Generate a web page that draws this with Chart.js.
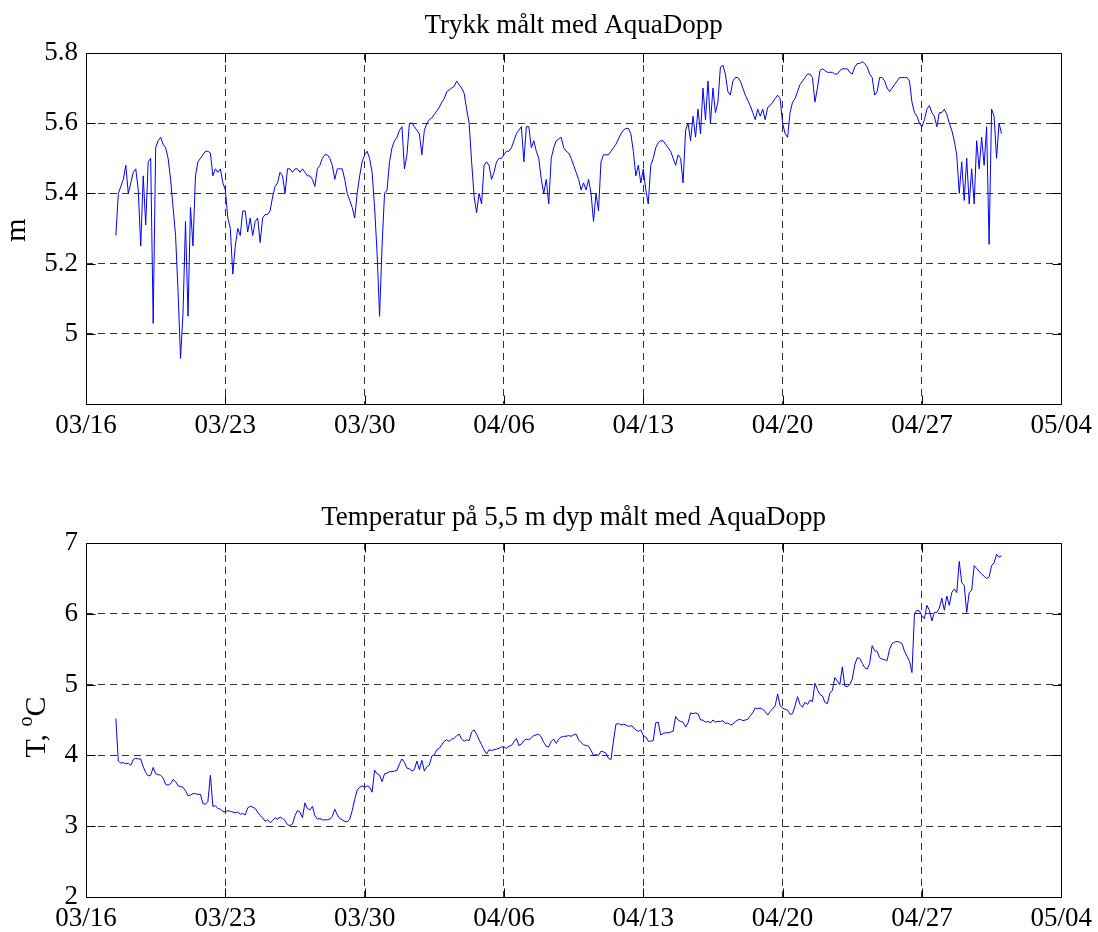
<!DOCTYPE html>
<html><head><meta charset="utf-8">
<script src="https://cdn.jsdelivr.net/npm/chart.js@4.4.1/dist/chart.umd.min.js"></script>
<style>
html,body{margin:0;padding:0;background:#fff;}
#wrap{position:relative;width:1098px;height:932px;background:#fff;}
canvas{position:absolute;left:0;}
</style></head><body>
<div id="wrap">
<canvas id="c1" width="1098" height="466" style="top:0"></canvas>
<canvas id="c2" width="1098" height="466" style="top:466px"></canvas>
</div>
<script>
// ---- data (days since 03/16 00:00, sampled every 3 h, one row per day) ----
const startDay = 1.5;
const stepDays = 0.125;
const dateTickDays = [0, 7, 14, 21, 28, 35, 42, 49];
const dateTickLabels = ['03/16', '03/23', '03/30', '04/06', '04/13', '04/20', '04/27', '05/04'];
const pressureTicks = [4.8, 5.0, 5.2, 5.4, 5.6, 5.8];
const pressureTickLabels = ['', '5', '5.2', '5.4', '5.6', '5.8'];
const tempTicks = [2, 3, 4, 5, 6, 7];
const tempTickLabels = ['2', '3', '4', '5', '6', '7'];
const pressureTitle = 'Trykk målt med AquaDopp';
const tempTitle = 'Temperatur på 5,5 m dyp målt med AquaDopp';

const pressure = [
  5.28, 5.40, 5.42, 5.44,
  5.48, 5.40, 5.43, 5.46, 5.47, 5.41, 5.25, 5.45,
  5.31, 5.49, 5.50, 5.03, 5.53, 5.55, 5.56, 5.54,
  5.53, 5.50, 5.44, 5.36, 5.28, 5.12, 4.93, 5.06,
  5.32, 5.05, 5.36, 5.25, 5.45, 5.49, 5.50, 5.51,
  5.52, 5.52, 5.515, 5.45, 5.47, 5.46, 5.47, 5.43,
  5.41, 5.33, 5.30, 5.17, 5.25, 5.30, 5.28, 5.35,
  5.35, 5.29, 5.33, 5.28, 5.32, 5.33, 5.26, 5.33,
  5.34, 5.34, 5.35, 5.39, 5.42, 5.43, 5.46, 5.45,
  5.40, 5.47, 5.47, 5.46, 5.47, 5.47, 5.46, 5.47,
  5.46, 5.45, 5.45, 5.44, 5.42, 5.47, 5.48, 5.50,
  5.51, 5.51, 5.50, 5.48, 5.44, 5.47, 5.47, 5.47,
  5.44, 5.40, 5.38, 5.36, 5.33, 5.40, 5.45, 5.49,
  5.51, 5.52, 5.50, 5.46, 5.36, 5.23, 5.05, 5.25,
  5.40, 5.41, 5.49, 5.53, 5.55, 5.56, 5.58, 5.59,
  5.47, 5.51, 5.60, 5.60, 5.59, 5.58, 5.57, 5.51,
  5.58, 5.60, 5.61, 5.615, 5.625, 5.635, 5.645, 5.66,
  5.67, 5.69, 5.695, 5.70, 5.705, 5.72, 5.71, 5.70,
  5.685, 5.64, 5.60, 5.49, 5.39, 5.345, 5.40, 5.37,
  5.48, 5.49, 5.48, 5.44, 5.46, 5.49, 5.50, 5.50,
  5.51, 5.52, 5.52, 5.53, 5.55, 5.57, 5.58, 5.59,
  5.49, 5.59, 5.59, 5.53, 5.55, 5.52, 5.50, 5.44,
  5.40, 5.44, 5.37, 5.50, 5.53, 5.55, 5.555, 5.56,
  5.53, 5.52, 5.515, 5.50, 5.48, 5.46, 5.44, 5.41,
  5.43, 5.41, 5.44, 5.40, 5.32, 5.40, 5.35, 5.49,
  5.51, 5.51, 5.51, 5.52, 5.53, 5.54, 5.555, 5.57,
  5.58, 5.585, 5.585, 5.57, 5.52, 5.45, 5.48, 5.43,
  5.47, 5.41, 5.37, 5.48, 5.50, 5.53, 5.545, 5.55,
  5.55, 5.54, 5.53, 5.52, 5.50, 5.48, 5.51, 5.50,
  5.43, 5.58, 5.60, 5.55, 5.62, 5.56, 5.64, 5.57,
  5.70, 5.61, 5.72, 5.60, 5.70, 5.63, 5.66, 5.76,
  5.765, 5.74, 5.69, 5.68, 5.72, 5.73, 5.73, 5.72,
  5.70, 5.68, 5.665, 5.65, 5.63, 5.61, 5.64, 5.62,
  5.64, 5.61, 5.645, 5.65, 5.66, 5.67, 5.68, 5.67,
  5.60, 5.57, 5.56, 5.63, 5.66, 5.67, 5.69, 5.71,
  5.72, 5.73, 5.74, 5.74, 5.73, 5.66, 5.70, 5.75,
  5.755, 5.75, 5.745, 5.745, 5.745, 5.74, 5.74, 5.75,
  5.755, 5.755, 5.755, 5.745, 5.74, 5.76, 5.77, 5.77,
  5.775, 5.77, 5.76, 5.74, 5.73, 5.68, 5.69, 5.73,
  5.73, 5.72, 5.70, 5.69, 5.70, 5.71, 5.72, 5.73,
  5.73, 5.73, 5.73, 5.72, 5.66, 5.63, 5.62, 5.60,
  5.59, 5.61, 5.64, 5.65, 5.63, 5.62, 5.59, 5.63,
  5.63, 5.64, 5.625, 5.60, 5.58, 5.55, 5.51, 5.40,
  5.49, 5.38, 5.50, 5.37, 5.47, 5.37, 5.55, 5.47,
  5.56, 5.48, 5.59, 5.255, 5.64, 5.62, 5.50, 5.60,
  5.57
];

const temperature = [
  4.52, 3.92, 3.89, 3.90,
  3.88, 3.89, 3.86, 3.94, 3.96, 3.95, 3.95, 3.84,
  3.76, 3.71, 3.72, 3.83, 3.74, 3.73, 3.72, 3.68,
  3.59, 3.58, 3.60, 3.66, 3.63, 3.57, 3.56, 3.55,
  3.50, 3.43, 3.44, 3.46, 3.46, 3.45, 3.45, 3.32,
  3.31, 3.35, 3.72, 3.28, 3.29, 3.25, 3.24, 3.21,
  3.20, 3.22, 3.21, 3.20, 3.19, 3.20, 3.17, 3.18,
  3.16, 3.26, 3.28, 3.27, 3.25, 3.20, 3.15, 3.12,
  3.07, 3.09, 3.05, 3.08, 3.12, 3.10, 3.13, 3.11,
  3.08, 3.02, 3.01, 3.03, 3.15, 3.22, 3.20, 3.12,
  3.33, 3.25, 3.23, 3.28, 3.15, 3.10, 3.11, 3.09,
  3.09, 3.09, 3.10, 3.14, 3.24, 3.16, 3.11, 3.09,
  3.07, 3.06, 3.10, 3.22, 3.38, 3.51, 3.55, 3.57,
  3.55, 3.57, 3.55, 3.48, 3.79, 3.74, 3.72, 3.63,
  3.74, 3.75, 3.77, 3.77, 3.78, 3.79, 3.88, 3.95,
  3.90, 3.82, 3.81, 3.78, 3.80, 3.92, 3.80, 3.93,
  3.78, 3.84, 3.86, 3.99, 4.01, 4.08, 4.10, 4.15,
  4.20, 4.22, 4.20, 4.23, 4.24, 4.28, 4.30, 4.23,
  4.20, 4.22, 4.21, 4.33, 4.36, 4.30, 4.22, 4.15,
  4.08, 4.02, 4.08, 4.07, 4.08, 4.09, 4.10, 4.12,
  4.12, 4.10, 4.13, 4.14, 4.19, 4.24, 4.14, 4.16,
  4.21, 4.23, 4.22, 4.25, 4.28, 4.29, 4.30, 4.26,
  4.18, 4.13, 4.12, 4.20, 4.23, 4.17, 4.23, 4.26,
  4.27, 4.27, 4.28, 4.27, 4.29, 4.30, 4.22, 4.18,
  4.15, 4.14, 4.13, 4.07, 4.00, 4.01, 4.00, 4.06,
  4.05, 4.03, 3.96, 3.94, 4.20, 4.44, 4.45, 4.43,
  4.44, 4.43, 4.41, 4.42, 4.40, 4.36, 4.34, 4.36,
  4.28, 4.26, 4.20, 4.20, 4.21, 4.46, 4.47, 4.29,
  4.31, 4.32, 4.32, 4.33, 4.34, 4.55, 4.50, 4.48,
  4.47, 4.40, 4.46, 4.60, 4.59, 4.60, 4.59, 4.50,
  4.50, 4.47, 4.48, 4.46, 4.50, 4.47, 4.48, 4.48,
  4.49, 4.45, 4.46, 4.43, 4.44, 4.48, 4.50, 4.51,
  4.49, 4.50, 4.51, 4.56, 4.60, 4.67, 4.66, 4.67,
  4.65, 4.62, 4.57, 4.62, 4.66, 4.70, 4.87, 4.70,
  4.67, 4.65, 4.64, 4.58, 4.59, 4.70, 4.83, 4.72,
  4.68, 4.75, 4.72, 4.78, 4.76, 5.02, 4.93, 4.86,
  4.84, 4.75, 4.73, 4.88, 4.92, 5.10, 5.05, 5.00,
  5.25, 4.98, 4.97, 5.00, 5.08, 5.28, 5.38, 5.37,
  5.30, 5.24, 5.22, 5.30, 5.55, 5.48, 5.47, 5.38,
  5.36, 5.35, 5.34, 5.50, 5.58, 5.60, 5.61, 5.60,
  5.58, 5.47, 5.40, 5.33, 5.17, 6.00, 6.05, 6.04,
  5.97, 5.93, 6.12, 6.05, 5.90, 6.02, 6.02, 6.08,
  6.22, 6.05, 6.25, 6.12, 6.30, 6.35, 6.30, 6.74,
  6.44, 6.40, 6.02, 6.30, 6.33, 6.68, 6.64, 6.60,
  6.56, 6.53, 6.50, 6.52, 6.68, 6.72, 6.84, 6.80,
  6.82
];

// ---- drawing ----
const FONT = '"Liberation Serif", "Times New Roman", serif';
const TICK_FONT = {family: FONT, size: 27, weight: 'normal'};

const framePlugin = {
  id: 'frame',
  afterDraw(chart, args, opts) {
    const ctx = chart.ctx;
    const {left, right, top, bottom} = chart.chartArea;
    const xs = chart.scales.x, ys = chart.scales.y;
    const L = Math.round(left) + 0.5, R = Math.round(right) + 0.5;
    const T = Math.round(top) + 0.5, B = Math.round(bottom) + 0.5;
    ctx.save();
    ctx.strokeStyle = '#000';
    ctx.lineWidth = 1;
    ctx.setLineDash([]);
    ctx.beginPath();
    ctx.rect(L, T, R - L, B - T);
    const tl = 9;
    xs.ticks.forEach(t => {
      const px = Math.round(xs.getPixelForValue(t.value)) + 0.5;
      if (px <= L + 1 || px >= R - 1) return;
      ctx.moveTo(px, B); ctx.lineTo(px, B - tl);
      ctx.moveTo(px, T); ctx.lineTo(px, T + tl);
    });
    ys.ticks.forEach(t => {
      const py = Math.round(ys.getPixelForValue(t.value)) + 0.5;
      if (py <= T + 1 || py >= B - 1) return;
      ctx.moveTo(L, py); ctx.lineTo(L + tl, py);
      ctx.moveTo(R, py); ctx.lineTo(R - tl, py);
    });
    ctx.stroke();
    // title, centred over the plot area
    ctx.fillStyle = '#000';
    ctx.textAlign = 'center';
    ctx.textBaseline = 'alphabetic';
    ctx.font = opts.titleSize + 'px ' + FONT;
    ctx.fillText(opts.title, (left + right) / 2, opts.titleY);
    // y axis label
    if (opts.label) {
      const lab = opts.label;
      ctx.translate(lab.x, lab.y);
      ctx.rotate(-Math.PI / 2);
      ctx.textAlign = 'left';
      const big = lab.size + 'px ' + FONT, small = Math.round(lab.size * 0.65) + 'px ' + FONT;
      let total = 0;
      lab.parts.forEach(p => { ctx.font = p.sup ? small : big; total += ctx.measureText(p.text).width; });
      let x = -total / 2;
      lab.parts.forEach(p => {
        ctx.font = p.sup ? small : big;
        ctx.fillText(p.text, x, p.sup ? -lab.size * 0.42 : 0);
        x += ctx.measureText(p.text).width;
      });
    }
    ctx.restore();
  }
};

function makeChart(id, values, yMin, yMax, yTicks, yTickLabels, title, titleY, topSpace, xAxisHeight, label) {
  const pts = values.map((v, i) => ({x: startDay + i * stepDays, y: v}));
  return new Chart(document.getElementById(id), {
    type: 'line',
    data: {datasets: [{data: pts, borderColor: '#0000ff', borderWidth: 1, pointRadius: 0, tension: 0, fill: false}]},
    options: {
      responsive: false, animation: false, devicePixelRatio: 1,
      layout: {padding: {left: 0, right: 35, top: topSpace, bottom: 0}},
      plugins: {
        legend: {display: false}, tooltip: {enabled: false}, title: {display: false},
        frame: {label: label, title: title, titleY: titleY, titleSize: 27}
      },
      scales: {
        x: {
          type: 'linear', min: 0, max: 49,
          afterBuildTicks: s => { s.ticks = dateTickDays.map(v => ({value: v})); },
          afterFit: s => { s.height = xAxisHeight; },
          ticks: {callback: (v, i) => dateTickLabels[i], font: TICK_FONT, color: '#000', padding: 6, maxRotation: 0, autoSkip: false},
          grid: {color: '#333', lineWidth: 1, drawTicks: false},
          border: {display: false, dash: [7, 5]}
        },
        y: {
          type: 'linear', min: yMin, max: yMax,
          afterBuildTicks: s => { s.ticks = yTicks.map(v => ({value: v})); },
          afterFit: s => { s.width = 86; },
          ticks: {callback: (v, i) => yTickLabels[i], font: TICK_FONT, color: '#000', padding: 8, autoSkip: false},
          grid: {color: '#333', lineWidth: 1, drawTicks: false},
          border: {display: false, dash: [7, 5]}
        }
      }
    },
    plugins: [framePlugin]
  });
}

makeChart('c1', pressure, 4.8, 5.8, pressureTicks, pressureTickLabels, pressureTitle, 33, 53, 62,
  {x: 25, y: 230, size: 30, parts: [{text: 'm'}]});
makeChart('c2', temperature, 2, 7, tempTicks, tempTickLabels, tempTitle, 59, 77, 35,
  {x: 45, y: 261, size: 30, parts: [{text: 'T, '}, {text: 'o', sup: true}, {text: 'C'}]});
</script>
</body></html>
